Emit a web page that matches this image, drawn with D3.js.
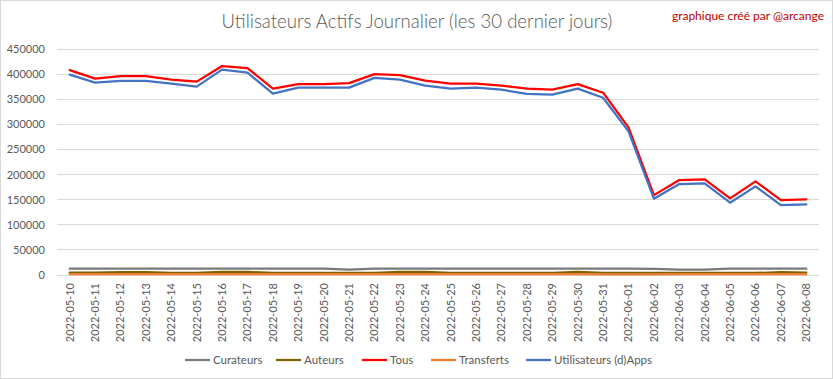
<!DOCTYPE html>
<html><head><meta charset="utf-8">
<script src="https://cdn.jsdelivr.net/npm/d3@7"></script>
<style>body{margin:0;background:#fff;}svg{display:block;font-family:Lato,"Open Sans",sans-serif;}</style>
</head><body><svg id="c" width="833" height="379"></svg>
<script>
const dates = ["2022-05-10","2022-05-11","2022-05-12","2022-05-13","2022-05-14","2022-05-15","2022-05-16","2022-05-17","2022-05-18","2022-05-19","2022-05-20","2022-05-21","2022-05-22","2022-05-23","2022-05-24","2022-05-25","2022-05-26","2022-05-27","2022-05-28","2022-05-29","2022-05-30","2022-05-31","2022-06-01","2022-06-02","2022-06-03","2022-06-04","2022-06-05","2022-06-06","2022-06-07","2022-06-08"];
const curateurs = [12500,12500,12500,12500,12500,12500,12500,12500,12500,12500,12500,10500,12500,12500,12500,12500,12500,12500,12500,12500,12500,12500,12500,12000,10500,10500,12500,12500,12500,12500];
const auteurs = [4500,4500,5500,5500,4000,4000,6000,6000,4000,4000,4000,4000,4000,6000,6000,4000,4000,4000,4000,4000,6000,4000,4000,4000,4000,4000,4000,4000,5500,4500];
const tous = [408000,391000,396000,396000,389000,385000,416000,412000,371000,380000,380000,382000,400000,398000,387000,381000,381000,377000,371000,369000,380000,363000,294000,159000,189000,190500,152500,186500,149000,150500];
const transferts = [1800,1800,1800,1800,1800,1800,1800,1800,1800,1800,1800,1800,1800,1800,1800,1800,1800,1800,1800,1800,1800,1200,1000,1200,1800,1800,1800,1800,1800,1800];
const apps = [399000,383000,386500,386500,381000,375000,409000,403000,361000,373000,373000,373000,392500,389000,377000,371000,373000,369000,360500,359000,371000,353000,286000,152000,181000,182500,144000,176500,139000,140500];
const yTicks = [0,50000,100000,150000,200000,250000,300000,350000,400000,450000];
const seriesNames = ["Curateurs","Auteurs","Tous","Transferts","Utilisateurs (d)Apps"];
const seriesData = [curateurs,auteurs,tous,transferts,apps];
const seriesColors = ["#7a7a7a","#7f6000","#ff0000","#ed7d31","#4472c4"];

const svg = d3.select("#c");
svg.append("rect").attr("x",0.5).attr("y",0.5).attr("width",832).attr("height",378).attr("fill","#fff").attr("stroke","#d9d9d9");

const x = d3.scaleBand().domain(dates).range([57,819]);
const y = d3.scaleLinear().domain([0,450000]).range([275,49]);
const textCol = "#595959";

svg.append("g").selectAll("line").data(yTicks).join("line")
  .attr("x1",57).attr("x2",819).attr("y1",d=>y(d)).attr("y2",d=>y(d))
  .attr("stroke","#d9d9d9").attr("stroke-width",1).attr("shape-rendering","crispEdges");

const yAxis = d3.axisLeft(y).tickValues(yTicks).tickSize(0).tickPadding(0).tickFormat(d3.format("d"));
const gy = svg.append("g").attr("transform","translate(45,0)").call(yAxis);
gy.select(".domain").remove();
gy.selectAll("text").attr("fill",textCol).style("font-size","11px").style("font-family","Lato, sans-serif");

const xAxis = d3.axisBottom(x).tickSize(0).tickPadding(0);
const gx = svg.append("g").attr("transform","translate(0,283)").call(xAxis);
gx.select(".domain").remove();
gx.selectAll("text").attr("fill",textCol).style("font-size","11px").style("font-family","Lato, sans-serif")
  .attr("transform","rotate(-90)").attr("text-anchor","end").attr("x",0).attr("y",0).attr("dy","0.35em");

const line = d3.line().x((d,i)=>x(dates[i])+x.bandwidth()/2).y(d=>y(d));
svg.append("g").selectAll("path").data(seriesData).join("path")
  .attr("d",d=>line(d)).attr("fill","none")
  .attr("stroke",(d,i)=>seriesColors[i]).attr("stroke-width",2.25)
  .attr("stroke-linejoin","round").attr("stroke-linecap","round");

svg.append("text").attr("x",417).attr("y",28).attr("text-anchor","middle")
  .attr("fill",textCol).style("font-size","18.6px").style("font-weight","300")
  .text("Utilisateurs Actifs Journalier (les 30 dernier jours)");
svg.append("text").attr("x",824).attr("y",20).attr("text-anchor","end")
  .attr("fill","#c00000").style("font-size","12px")
  .text("graphique créé par @arcange");

const legX = [185,276,362,431,526];
const lg = svg.append("g").selectAll("g").data(seriesNames).join("g")
  .attr("transform",(d,i)=>`translate(${legX[i]},360)`);
lg.append("line").attr("x1",0).attr("x2",25).attr("y1",0).attr("y2",0)
  .attr("stroke",(d,i)=>seriesColors[i]).attr("stroke-width",2.25);
lg.append("text").attr("x",28).attr("y",0).attr("dy","0.35em").attr("fill",textCol)
  .style("font-size","11.5px").text(d=>d);
</script></body></html>
